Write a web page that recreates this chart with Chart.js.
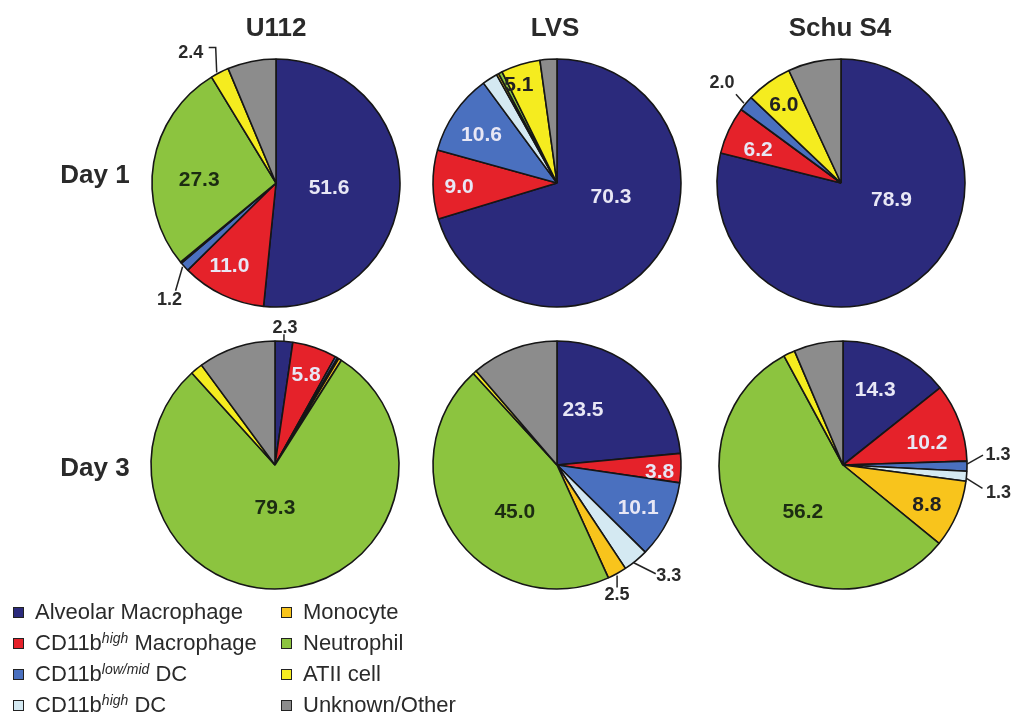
<!DOCTYPE html>
<html>
<head>
<meta charset="utf-8">
<script src="https://cdn.jsdelivr.net/npm/chart.js@4.4.0/dist/chart.umd.min.js"></script>
<style>
body{margin:0;background:#fff;font-family:"Liberation Sans",Arial,sans-serif;color:#262626;}
#page{position:relative;width:1014px;height:713px;overflow:hidden;}
.pie{position:absolute;width:340px;height:340px;}
.title{position:absolute;font-weight:bold;font-size:26px;transform:translate(-50%,-50%);white-space:nowrap;color:#2a2a2a;}
.item{position:absolute;white-space:nowrap;font-size:22px;line-height:31px;color:#2a2a2a;}
.swatch{display:inline-block;width:9px;height:9px;border:1.5px solid #222;margin-right:11px;vertical-align:1px;}
.item sup{font-style:italic;font-size:14px;vertical-align:7px;line-height:0;}
</style>
</head>
<body>
<div id="page"></div>
<script>
// values, % of cells, in legend order
const strains = ['U112', 'LVS', 'Schu S4'];
const days = ['Day 1', 'Day 3'];
const cellTypes = ['Alveolar Macrophage', 'CD11b^high Macrophage', 'CD11b^low/mid DC', 'CD11b^high DC',
                   'Monocyte', 'Neutrophil', 'ATII cell', 'Unknown/Other'];

const u112Day1 = [51.6, 11.0, 1.2, 0.1, 0.1, 27.3, 2.4, 6.3];
const lvsDay1  = [70.3, 9.0, 10.6, 2.0, 0.3, 0.5, 5.1, 2.2];
const schuDay1 = [78.9, 6.2, 2.0, 0, 0, 0, 6.0, 6.9];
const u112Day3 = [2.3, 5.8, 0.3, 0.2, 0.4, 79.3, 1.6, 10.1];
const lvsDay3  = [23.5, 3.8, 10.1, 3.3, 2.5, 45.0, 0.5, 11.3];
const schuDay3 = [14.3, 10.2, 1.3, 1.3, 8.8, 56.2, 1.5, 6.4];

const colors = ['#2b2a7c', '#e5222a', '#4a70bf', '#d4e9f2', '#f8c41c', '#8cc43f', '#f5ec1f', '#8c8c8c'];

const page = document.getElementById('page');

// label placement: inside = [slice, radius fraction, angle shift deg]
// outside = [slice, leader points from arc edge, text offset from arc edge]
const pies = [
  { data: u112Day1, cx: 276, cy: 183,
    inside: [[0, 0.43, 2.5], [1, 0.77, 3.6], [5, 0.62, -7.3]],
    outside: [[2, [[-2, 0], [-9, 24]], [-15, 33]], [6, [[-3, 0], [-4, -25], [-11, -25]], [-29, -19]]] },
  { data: lvsDay1, cx: 557, cy: 183,
    inside: [[0, 0.45, -22], [1, 0.79, -1.6], [2, 0.72, -2.3], [6, 0.85, -4.1]],
    outside: [] },
  { data: schuDay1, cx: 841, cy: 183,
    inside: [[0, 0.43, -33], [1, 0.72, -3.5], [6, 0.78, -0.6]],
    outside: [[2, [[-2, 0], [-10, -9]], [-24, -20]]] },
  { data: u112Day3, cx: 275, cy: 465,
    inside: [[1, 0.77, 0.3], [5, 0.35, 5]],
    outside: [[0, [[0, 0], [0, -7]], [1, -13]]] },
  { data: lvsDay3, cx: 557, cy: 465,
    inside: [[0, 0.49, -17], [1, 0.83, 2.5], [2, 0.74, 1.4], [5, 0.51, -14.7]],
    outside: [[3, [[-2, 2], [20, 13]], [33, 15]], [4, [[0, 2], [0, 14]], [0, 22]]] },
  { data: schuDay3, cx: 843, cy: 465,
    inside: [[0, 0.66, -2.6], [1, 0.70, 5.5], [4, 0.75, 2.1], [5, 0.5, -10]],
    outside: [[2, [[0, -2], [16, -11]], [31, -11]], [3, [[0, 2], [16, 12]], [32, 17]]] }
];

const sliceLabels = {
  id: 'sliceLabels',
  afterDatasetsDraw(chart, args, opts) {
    const ctx = chart.ctx;
    const arcs = chart.getDatasetMeta(0).data;
    const values = chart.data.datasets[0].data;
    ctx.save();
    ctx.textAlign = 'center';
    ctx.textBaseline = 'middle';
    ctx.font = 'bold 21px "Liberation Sans", Arial, sans-serif';
    opts.inside.forEach(([i, f, shift]) => {
      const a = arcs[i];
      const mid = (a.startAngle + a.endAngle) / 2 + shift * Math.PI / 180;
      const r = a.outerRadius * f;
      ctx.fillStyle = i < 3 ? '#e8e7f5' : (i == 5 ? '#1c2c12' : '#222');
      ctx.fillText(values[i].toFixed(1), a.x + Math.cos(mid) * r, a.y + Math.sin(mid) * r);
    });
    ctx.font = 'bold 18px "Liberation Sans", Arial, sans-serif';
    ctx.strokeStyle = '#222';
    ctx.lineWidth = 1.5;
    ctx.fillStyle = '#2a2a2a';
    opts.outside.forEach(([i, pts, t]) => {
      const a = arcs[i];
      const mid = (a.startAngle + a.endAngle) / 2;
      const ex = a.x + Math.cos(mid) * a.outerRadius;
      const ey = a.y + Math.sin(mid) * a.outerRadius;
      ctx.beginPath();
      pts.forEach(([dx, dy], k) => k ? ctx.lineTo(ex + dx, ey + dy) : ctx.moveTo(ex + dx, ey + dy));
      ctx.stroke();
      ctx.fillText(values[i].toFixed(1), ex + t[0], ey + t[1]);
    });
    ctx.restore();
  }
};

pies.forEach((p) => {
  const box = document.createElement('div');
  box.className = 'pie';
  box.style.left = (p.cx - 170) + 'px';
  box.style.top = (p.cy - 170) + 'px';
  const cv = document.createElement('canvas');
  box.appendChild(cv);
  page.appendChild(box);
  new Chart(cv, {
    type: 'pie',
    data: {
      labels: cellTypes.map(s => s.replace('^', ' ')),
      datasets: [{
        data: p.data,
        backgroundColor: colors,
        borderColor: '#161616',
        borderWidth: 1.6,
        hoverOffset: 0,
        radius: 124
      }]
    },
    options: {
      responsive: true,
      maintainAspectRatio: false,
      animation: false,
      events: [],
      layout: { padding: 0 },
      plugins: {
        legend: { display: false },
        tooltip: { enabled: false },
        sliceLabels: { inside: p.inside, outside: p.outside }
      }
    },
    plugins: [sliceLabels]
  });
});

// column and row titles
const colX = [276, 555, 840];
strains.forEach((s, k) => {
  const d = document.createElement('div');
  d.className = 'title';
  d.textContent = s;
  d.style.left = colX[k] + 'px';
  d.style.top = '27px';
  page.appendChild(d);
});
const rowY = [174, 467];
days.forEach((s, k) => {
  const d = document.createElement('div');
  d.className = 'title';
  d.textContent = s;
  d.style.left = '95px';
  d.style.top = rowY[k] + 'px';
  page.appendChild(d);
});

// legend, two columns of four
cellTypes.forEach((name, k) => {
  const d = document.createElement('div');
  d.className = 'item';
  d.style.left = (k < 4 ? 13 : 281) + 'px';
  d.style.top = (596 + (k % 4) * 31) + 'px';
  const parts = name.split(' ');
  const html = parts.map(w => {
    const c = w.indexOf('^');
    return c < 0 ? w : w.slice(0, c) + '<sup>' + w.slice(c + 1) + '</sup>';
  }).join(' ');
  d.innerHTML = '<span class="swatch" style="background:' + colors[k] + '"></span>' + html;
  page.appendChild(d);
});
</script>
</body>
</html>
